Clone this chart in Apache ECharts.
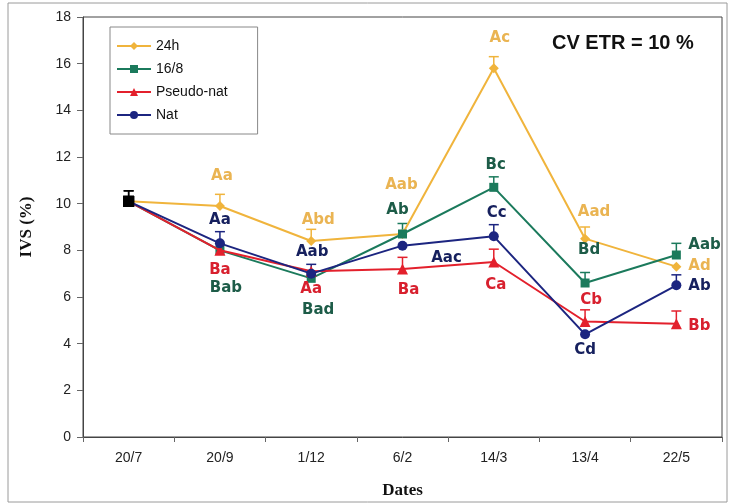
<!DOCTYPE html>
<html><head><meta charset="utf-8">
<script src="https://cdn.jsdelivr.net/npm/echarts@6/dist/echarts.min.js"></script>
<style>html,body{margin:0;padding:0;background:#fff}#c{width:730px;height:504px}</style>
</head><body><div id="c"></div>
<script>
// ---- data ----
var categories = ['20/7','20/9','1/12','6/2','14/3','13/4','22/5'];
var h24    = [10.1, 9.9, 8.4, 8.7, 15.8, 8.5, 7.3];
var h16    = [10.1, 8.0, 6.8, 8.7, 10.7, 6.6, 7.8];
var pseudo = [10.1, 8.0, 7.1, 7.2, 7.5, 4.95, 4.85];
var nat    = [10.1, 8.3, 7.0, 8.2, 8.6, 4.4, 6.5];
var h24Err    = [0.45, 0.5, 0.5, null, 0.5, 0.5, null];
var h16Err    = [null, null, null, 0.45, 0.45, 0.45, 0.5];
var pseudoErr = [null, null, null, 0.5, 0.55, 0.5, 0.55];
var natErr    = [0.45, 0.5, 0.4, null, 0.5, null, 0.45];
var h24Labels    = ['', 'Aa', 'Abd', 'Aab', 'Ac', 'Aad', 'Ad'];
var h16Labels    = ['', 'Bab', 'Bad', 'Ab', 'Bc', 'Bd', 'Aab'];
var pseudoLabels = ['', 'Ba', 'Aa', 'Ba', 'Ca', 'Cb', 'Bb'];
var natLabels    = ['', 'Aa', 'Aab', 'Aac', 'Cc', 'Cd', 'Ab'];
var names = ['24h', '16/8', 'Pseudo-nat', 'Nat'];
var yTicks = {min: 0, max: 18, interval: 2};

// ---- styling / layout (not data) ----
var lineColors  = ['#F0B43C', '#1B7A5C', '#E3202C', '#1C2580'];
var labelColors = ['#EAB452', '#1D5C48', '#D8202E', '#16205E'];
var symbols = ['diamond', 'rect', 'triangle', 'circle'];
var symSizes = [10, 9, 11, 10];
// label offsets [dx, dy] from the marker
var offs = [
  [null, [2,-30], [7,-21], [-1,-49], [6,-30], [9,-27], [12,-1]],
  [null, [6,38], [7,32], [-5,-24], [2,-22], [4,-33], [12,-10]],
  [null, [0,20], [0,18], [6,21], [2,23], [6,-21], [12,2]],
  [null, [0,-23], [1,-22], [44,12], [3,-23], [0,16], [12,1]]
];
var rightAlign = [6];

var vals = [h24, h16, pseudo, nat];
var errs = [h24Err, h16Err, pseudoErr, natErr];
var labs = [h24Labels, h16Labels, pseudoLabels, natLabels];

var series = [];
vals.forEach(function (v, s) {
  var data = v.map(function (y, i) {
    var item = {value: y};
    if (i === 0) {
      item.symbol = 'rect';
      item.symbolSize = 11;
      item.itemStyle = {color: '#000'};
    }
    if (labs[s][i]) {
      var isRight = rightAlign.indexOf(i) >= 0;
      item.label = {
        show: true, position: 'inside', formatter: labs[s][i],
        offset: offs[s][i],
        align: isRight ? 'left' : 'center', verticalAlign: 'middle'
      };
    }
    return item;
  });
  series.push({
    name: names[s], type: 'line', data: data,
    symbol: symbols[s], symbolSize: symSizes[s],
    lineStyle: {color: lineColors[s], width: 2},
    itemStyle: {color: lineColors[s]},
    label: {color: labelColors[s], fontSize: 15, fontWeight: 'bold', fontFamily: 'DejaVu Sans, sans-serif'},
    z: 3 + s
  });
  var eb = [];
  v.forEach(function (y, i) { if (errs[s][i] != null) eb.push([i, y, y + errs[s][i]]); });
  series.push({
    type: 'custom', data: eb, z: 2 + s, silent: true,
    renderItem: function (params, api) {
      var p0 = api.coord([api.value(0), api.value(1)]);
      var p1 = api.coord([api.value(0), api.value(2)]);
      var st = {stroke: api.value(0) === 0 ? '#000' : lineColors[s], lineWidth: 1.5};
      return {type: 'group', children: [
        {type: 'line', shape: {x1: p0[0], y1: p0[1], x2: p1[0], y2: p1[1]}, style: st},
        {type: 'line', shape: {x1: p1[0] - 5, y1: p1[1], x2: p1[0] + 5, y2: p1[1]}, style: st}
      ]};
    },
    encode: {x: 0, y: [1, 2]}
  });
});

var chart = echarts.init(document.getElementById('c'));
chart.setOption({
  animation: false,
  backgroundColor: '#fff',
  grid: {left: 83, right: 8, top: 17, bottom: 60, show: true, borderColor: '#444', borderWidth: 1},
  graphic: [
    {type: 'rect', shape: {x: 8, y: 3, width: 719, height: 499}, style: {fill: 'none', stroke: '#9a9a9a', lineWidth: 1}, z: -1},
    {type: 'text', left: 552, top: 33, style: {text: 'CV ETR = 10 %', font: 'bold 20px "Liberation Sans", Arial, sans-serif', fill: '#111'}}
  ],
  legend: {
    orient: 'vertical', left: 110, top: 27, itemWidth: 34, itemHeight: 10, itemGap: 9,
    padding: [12, 30, 12, 6], borderColor: '#888', borderWidth: 1,
    textStyle: {fontSize: 14, color: '#111', fontFamily: 'Liberation Sans, Arial, sans-serif'},
    data: names
  },
  xAxis: {
    type: 'category', data: categories, boundaryGap: true,
    axisLine: {lineStyle: {color: '#444'}},
    axisTick: {show: true, length: 5, lineStyle: {color: '#666'}},
    axisLabel: {fontSize: 14, color: '#222', margin: 14, fontFamily: 'Liberation Sans, Arial, sans-serif'},
    name: 'Dates', nameLocation: 'middle', nameGap: 45,
    nameTextStyle: {fontSize: 17, fontWeight: 'bold', fontFamily: 'Liberation Serif, Times New Roman, serif', color: '#111'}
  },
  yAxis: {
    type: 'value', min: yTicks.min, max: yTicks.max, interval: yTicks.interval,
    axisLine: {show: true, lineStyle: {color: '#444'}},
    axisTick: {show: true, length: 6, lineStyle: {color: '#666'}},
    splitLine: {show: false},
    axisLabel: {fontSize: 14, color: '#222', margin: 12, fontFamily: 'Liberation Sans, Arial, sans-serif'},
    name: 'IVS (%)', nameLocation: 'middle', nameGap: 48, nameRotate: 90,
    nameTextStyle: {fontSize: 17, fontWeight: 'bold', fontFamily: 'Liberation Serif, Times New Roman, serif', color: '#111'}
  },
  series: series
});
</script>
</body></html>
